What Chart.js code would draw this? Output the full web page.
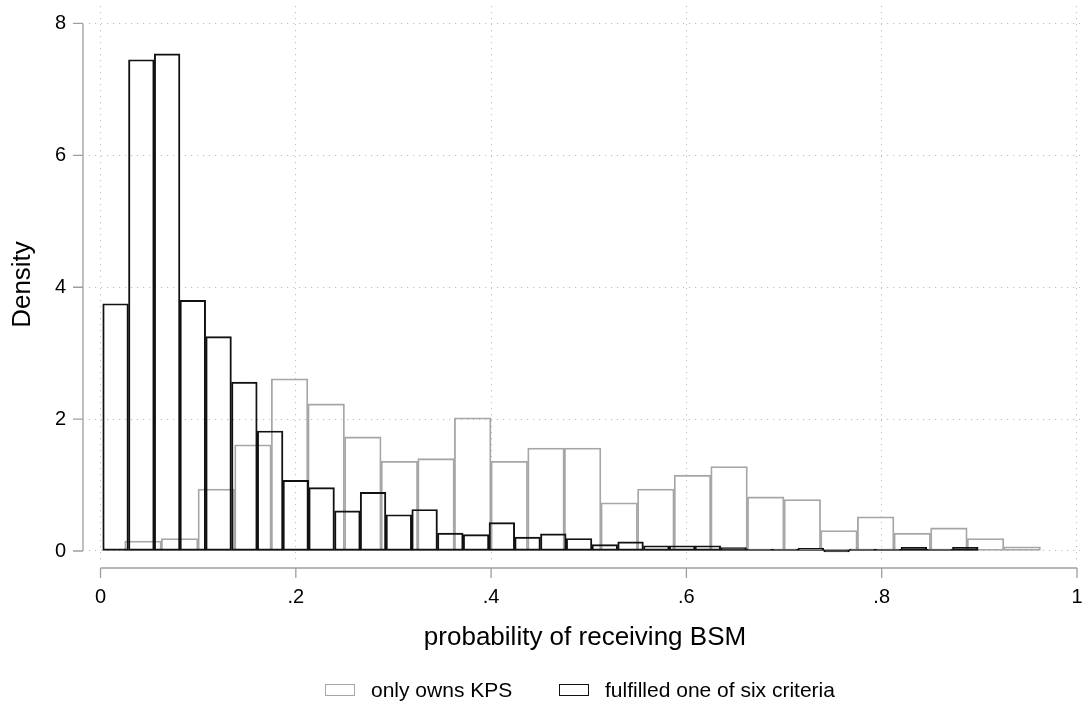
<!DOCTYPE html>
<html lang="en">
<head>
<meta charset="utf-8">
<title>probability of receiving BSM</title>
<script src="https://cdn.jsdelivr.net/npm/chart.js@4.4.1/dist/chart.umd.min.js"></script>
<style>
    html, body { margin: 0; padding: 0; background: #fff; }
    #contenedor {
        position: relative; width: 1086px; height: 706px;
        font-family: "Liberation Sans", Arial, Helvetica, sans-serif;
    }
    #grafica { position: absolute; left: 0; top: 0; }
    .leyenda-item {
        position: absolute; top: 677px; height: 26px;
        display: flex; align-items: center;
        font-size: 21px; color: #000; white-space: nowrap;
    }
    .caja { width: 30px; height: 12px; box-sizing: border-box; background: #fff; margin-right: 16px; }
</style>
</head>
<body>
<div id="contenedor">
    <canvas id="grafica" width="1086" height="706"></canvas>
</div>
<script>
// datos (centros de cada barra y densidad)
const centrosKPS = [0.0435, 0.0810, 0.1186, 0.1561, 0.1936, 0.2311, 0.2686, 0.3061, 0.3436,
    0.3811, 0.4186, 0.4562, 0.4937, 0.5312, 0.5687, 0.6062, 0.6437, 0.6812, 0.7187,
    0.7562, 0.7938, 0.8313, 0.8688, 0.9063, 0.9438];
const densidadKPS = [0.15, 0.19, 0.94, 1.61, 2.61, 2.23, 1.73, 1.36, 1.40,
    2.02, 1.36, 1.56, 1.56, 0.73, 0.94, 1.15, 1.28, 0.82, 0.78,
    0.31, 0.52, 0.27, 0.35, 0.19, 0.065];

const centrosCriterio = [0.0154, 0.0418, 0.0682, 0.0945, 0.1209, 0.1473, 0.1737, 0.2000,
    0.2264, 0.2528, 0.2791, 0.3055, 0.3319, 0.3582, 0.3846, 0.4110, 0.4373,
    0.4637, 0.4901, 0.5164, 0.5428, 0.5692, 0.5956, 0.6219, 0.6483, 0.6747,
    0.7010, 0.7274, 0.7538, 0.7801, 0.8065, 0.8329, 0.8592, 0.8856];
const densidadCriterio = [3.75, 7.45, 7.54, 3.80, 3.25, 2.56, 1.82, 1.07,
    0.96, 0.61, 0.89, 0.55, 0.63, 0.27, 0.25, 0.43, 0.21,
    0.26, 0.19, 0.096, 0.14, 0.08, 0.08, 0.08, 0.05, 0.01,
    0.025, 0.04, 0.0, 0.025, 0.005, 0.056, 0.005, 0.056];

const nombresSeries = ['only owns KPS', 'fulfilled one of six criteria'];
const ticksX = [0, 0.2, 0.4, 0.6, 0.8, 1];
const etiquetasX = ['0', '.2', '.4', '.6', '.8', '1'];
const ticksY = [0, 2, 4, 6, 8];
const etiquetasY = ['0', '2', '4', '6', '8'];
const tituloX = 'probability of receiving BSM';
const tituloY = 'Density';

const COLOR_GRIS = '#a6a6a6';
const COLOR_NEGRO = '#111111';
const COLOR_EJE = '#9e9e9e';
const COLOR_REJILLA = '#bdbdbd';

document.addEventListener('DOMContentLoaded', () => {
    inicializarLeyenda();
    inicializarGrafica();
});

// leyenda abajo (cajas vacias como en stata)
function inicializarLeyenda() {
    const contenedor = document.getElementById('contenedor');
    const bordes = [COLOR_GRIS, COLOR_NEGRO];
    const izquierdas = [325, 559];
    nombresSeries.forEach((nombre, i) => {
        const item = document.createElement('div');
        item.className = 'leyenda-item';
        item.style.left = izquierdas[i] + 'px';
        const caja = document.createElement('span');
        caja.className = 'caja';
        caja.style.border = (i === 0 ? '1.2px' : '1.4px') + ' solid ' + bordes[i];
        item.appendChild(caja);
        item.appendChild(document.createTextNode(nombre));
        contenedor.appendChild(item);
    });
}

// lineas de ejes separadas del area (estilo stata)
const ejesStata = {
    id: 'ejesStata',
    afterDraw(chart) {
        const { ctx, chartArea } = chart;
        const x = chart.scales.x, y = chart.scales.y;
        const yEje = chartArea.bottom + 5;
        const xEje = chartArea.left - 6;

        ctx.save();
        ctx.strokeStyle = COLOR_EJE;
        ctx.lineWidth = 1.3;
        ctx.beginPath();
        ctx.moveTo(x.getPixelForValue(ticksX[0]), yEje);
        ctx.lineTo(x.getPixelForValue(ticksX[ticksX.length - 1]), yEje);
        ticksX.forEach(v => {
            const px = x.getPixelForValue(v);
            ctx.moveTo(px, yEje);
            ctx.lineTo(px, yEje + 10);
        });
        ctx.moveTo(xEje, y.getPixelForValue(ticksY[0]));
        ctx.lineTo(xEje, y.getPixelForValue(ticksY[ticksY.length - 1]));
        ticksY.forEach(v => {
            const py = y.getPixelForValue(v);
            ctx.moveTo(xEje, py);
            ctx.lineTo(xEje - 10, py);
        });
        ctx.stroke();
        ctx.restore();
    }
};

// quita el relleno automatico que chart.js agrega por las etiquetas
function sinRelleno(eje) {
    eje.paddingTop = 0;
    eje.paddingBottom = 0;
    eje.paddingLeft = 0;
    eje.paddingRight = 0;
}

function inicializarGrafica() {
    const canvas = document.getElementById('grafica');
    if (!canvas) return;
    if (typeof Chart === 'undefined') {
        console.error('Chart.js no está disponible');
        return;
    }

    Chart.defaults.font.family = '"Liberation Sans", Arial, Helvetica, sans-serif';
    Chart.defaults.color = '#000';

    const ponerTicksX = eje => { eje.ticks = ticksX.map(v => ({ value: v })); };

    new Chart(canvas, {
        type: 'bar',
        data: {
            datasets: [
                {
                    label: nombresSeries[1],
                    data: centrosCriterio.map((c, i) => ({ x: c, y: densidadCriterio[i] })),
                    xAxisID: 'x',
                    backgroundColor: 'rgba(0,0,0,0)',
                    borderColor: COLOR_NEGRO,
                    borderWidth: 1.3,
                    borderSkipped: false,
                    minBarLength: 2,
                    grouped: false,
                    barPercentage: 1,
                    categoryPercentage: 1,
                    order: 0
                },
                {
                    label: nombresSeries[0],
                    data: centrosKPS.map((c, i) => ({ x: c, y: densidadKPS[i] })),
                    xAxisID: 'x2',
                    backgroundColor: 'rgba(0,0,0,0)',
                    borderColor: COLOR_GRIS,
                    borderWidth: 1.15,
                    borderSkipped: false,
                    grouped: false,
                    barPercentage: 1,
                    categoryPercentage: 1,
                    order: 1
                }
            ]
        },
        options: {
            responsive: false,
            animation: false,
            layout: { autoPadding: false, padding: { top: 6, right: 5, bottom: 53, left: 0 } },
            plugins: {
                legend: { display: false },
                tooltip: { enabled: false }
            },
            scales: {
                x: {
                    type: 'linear',
                    position: 'bottom',
                    offset: false,
                    min: -0.0118,
                    max: 1.0041,
                    afterBuildTicks: ponerTicksX,
                    afterFit: eje => { eje.height = 90; sinRelleno(eje); },
                    grid: { color: COLOR_REJILLA, lineWidth: 1, drawTicks: false, offset: false },
                    border: { display: false, dash: [1.2, 4.8] },
                    ticks: {
                        padding: 22,
                        autoSkip: false,
                        maxRotation: 0,
                        font: { size: 20 },
                        callback: (v, i) => etiquetasX[i]
                    },
                    title: {
                        display: true,
                        text: tituloX,
                        font: { size: 26 },
                        padding: { top: 3.5, bottom: 0 }
                    }
                },
                x2: {
                    type: 'linear',
                    position: 'bottom',
                    display: false,
                    offset: false,
                    min: -0.0118,
                    max: 1.0041,
                    afterBuildTicks: ponerTicksX,
                    afterFit: sinRelleno,
                    grid: { offset: false }
                },
                y: {
                    min: -0.182,
                    max: 8.265,
                    afterBuildTicks: eje => { eje.ticks = ticksY.map(v => ({ value: v })); },
                    afterFit: eje => { eje.width = 89; sinRelleno(eje); },
                    grid: { color: COLOR_REJILLA, lineWidth: 1, drawTicks: false },
                    border: { display: false, dash: [1.2, 4.8] },
                    ticks: {
                        padding: 23,
                        font: { size: 20 },
                        callback: (v, i) => etiquetasY[i]
                    },
                    title: {
                        display: true,
                        text: tituloY,
                        font: { size: 26 },
                        padding: { top: 7, bottom: 0 }
                    }
                }
            }
        },
        plugins: [ejesStata]
    });
}
</script>
</body>
</html>
